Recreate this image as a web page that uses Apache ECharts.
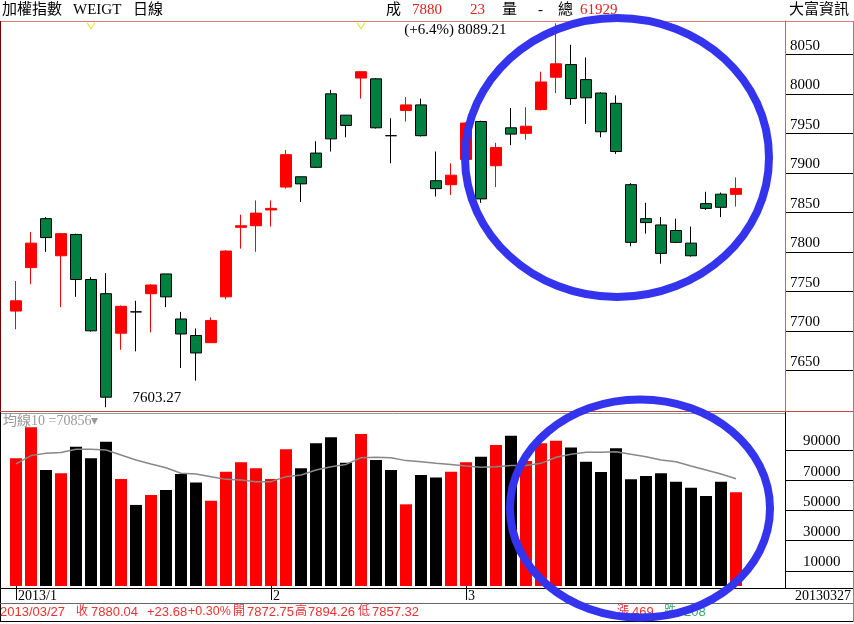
<!DOCTYPE html>
<html><head><meta charset="utf-8">
<script src="https://cdn.jsdelivr.net/npm/echarts@6/dist/echarts.min.js"></script>
<style>html,body{margin:0;padding:0;background:#fff}#c{width:854px;height:624px}</style>
</head><body><div id="c"></div>
<script>
// ---- data ----
const dates = [
 '2013/01/09','2013/01/10','2013/01/11','2013/01/14','2013/01/15','2013/01/16','2013/01/17','2013/01/18',
 '2013/01/21','2013/01/22','2013/01/23','2013/01/24','2013/01/25','2013/01/28','2013/01/29','2013/01/30','2013/01/31',
 '2013/02/01','2013/02/04','2013/02/05','2013/02/06','2013/02/18','2013/02/19','2013/02/20','2013/02/21','2013/02/22',
 '2013/02/23','2013/02/25','2013/02/26','2013/02/27',
 '2013/03/01','2013/03/04','2013/03/05','2013/03/06','2013/03/07','2013/03/08','2013/03/11','2013/03/12','2013/03/13',
 '2013/03/14','2013/03/15','2013/03/18','2013/03/19','2013/03/20','2013/03/21','2013/03/22','2013/03/25','2013/03/26','2013/03/27'
];
const opens  = [7725,7780,7842,7795,7822,7765,7747,7697,7724,7747,7772,7715,7694,7685,7743,7831,7833,7853,7882,7895,7925,8000,7973,8020,8019,7947,7979,7986,7890,7885,7917,7965,7909,7957,7950,7980,8021,8037,8018,8001,7988,7885,7842,7834,7827,7811,7861,7873,7872.75];
const closes = [7738,7811,7818,7823,7765,7700,7616,7731,7724,7758,7743,7696,7672,7713,7801,7833,7849,7855,7923,7886,7907,7943,7960,8028,7957,7947,7986,7947,7880,7897,7963,7867,7932,7949,7959,8015,8038,7994,7995,7952,7927,7812,7837,7798,7812,7795,7855,7856.36,7880.04];
const lows   = [7702,7759,7800,7730,7743,7699,7603.27,7676,7674,7698,7730,7653,7637,7685,7740,7804,7800,7832,7880,7863,7906,7927,7945,7994,7956,7912,7965,7946,7870,7872,7916,7862,7882,7935,7942,7979,8001,7986,7962,7945,7924,7807,7823,7785,7811,7794,7853,7844,7857.32];
const highs  = [7763,7825,7844,7824,7823,7768,7773,7732,7738,7759,7772,7724,7703,7717,7802,7847,7865,7865,7929,7895,7940,8005,7973,8028,8020,7969,7996,7994,7927,7912,7964,7966,7938,7982,7983,8028,8089.21,8062,8046,8002,7998,7887,7862,7844,7842,7832,7876,7875,7894.26];
const volumes = [84400,104900,76700,74500,92100,84400,95400,70700,53600,60200,63500,74000,68500,56400,75600,81800,77800,70700,90400,77800,94300,98300,81500,100500,83300,76700,54000,73400,71800,75600,81800,85500,93200,99400,82600,94300,96100,91500,82200,75400,91000,70500,72700,74500,69000,65000,59500,69000,61929];
const ma10 = [80700,86200,87700,88200,90400,90400,89900,86600,83300,80700,78200,74500,74000,72300,70500,70100,69000,69000,72300,73400,76700,78900,80400,84800,85100,84800,82900,82200,81100,80400,79300,78500,78900,79600,79600,81100,85100,87100,88400,88400,88800,87100,85500,83300,82200,79300,76700,74000,70856];
const priceTicks = [7650,7700,7750,7800,7850,7900,7950,8000,8050];
const volTicks = [10000,30000,50000,70000,90000];
const markerIdx = [5, 23];
const advances = 469, declines = 208;

// ---- derived ----
const n = dates.length;
const last = n - 1;
let hiIdx = 0, loIdx = 0;
for (let i = 0; i < n; i++) { if (highs[i] > highs[hiIdx]) hiIdx = i; if (lows[i] < lows[loIdx]) loIdx = i; }
const pct = ((highs[hiIdx] - lows[loIdx]) / lows[loIdx] * 100).toFixed(1);
const chg = closes[last] - closes[last - 1];
const chgPct = (chg / closes[last - 1] * 100).toFixed(2);
const monthStart = i => i === 0 || dates[i].slice(5, 7) !== dates[i - 1].slice(5, 7);
const monthLabel = i => i === 0 ? dates[i].slice(0, 4) + '/' + (+dates[i].slice(5, 7)) : String(+dates[i].slice(5, 7));

const SERIF = '"Liberation Serif","Noto Sans CJK TC",serif';
const SANS = '"Liberation Sans","Noto Sans CJK TC",sans-serif';
const RED = '#ff0000';
const yMin = 7598.5, yMax = 8092.2;

const chart = echarts.init(document.getElementById('c'), null, {renderer: 'canvas'});

function txt(x, y, s, color, size, family, align) {
  return {type: 'text', x: x, y: y, z: 50, style: {text: s, fill: color, font: size + 'px ' + family, textAlign: align || 'left', textVerticalAlign: 'middle'}};
}
function ln(x1, y1, x2, y2, color) {
  return {type: 'line', z: 40, shape: {x1, y1, x2, y2}, style: {stroke: color, lineWidth: 1}};
}
const lastDate = dates[last].replace(/\//g, '');

function yAxisCfg(grid, min, max, ticks, margin, lineColor) {
  return {type: 'value', gridIndex: grid, min: min, max: max, position: 'right', offset: 41.5,
    axisLine: {show: true, lineStyle: {color: lineColor, width: 1}}, splitLine: {show: false},
    axisTick: {show: true, inside: false, customValues: ticks, length: 68, lineStyle: {color: '#000', width: 1}},
    axisLabel: {show: true, customValues: ticks, formatter: v => String(v), margin: margin, align: 'left', verticalAlign: 'bottom',
      padding: [0, 0, 1, 0], color: '#000', fontSize: 15, fontFamily: SERIF}};
}

chart.setOption({
  animation: false,
  backgroundColor: '#fff',
  grid: [
    {left: 8.5, width: 735, top: 21, height: 390},
    {left: 8.5, width: 735, top: 413, height: 173}
  ],
  xAxis: [
    {type: 'category', gridIndex: 0, data: dates, show: false},
    {type: 'category', gridIndex: 1, data: dates, offset: 2,
     axisLine: {show: false},
     axisTick: {show: true, alignWithLabel: true, length: 14, interval: (i) => monthStart(i), lineStyle: {color: '#000', width: 1}},
     axisLabel: {show: true, interval: (i) => monthStart(i), formatter: (v, i) => monthLabel(i), align: 'left', padding: [0, 0, 0, 2], margin: 1, color: '#000', fontSize: 14, fontFamily: SERIF}}
  ],
  yAxis: [
    yAxisCfg(0, yMin, yMax, priceTicks, 5, '#e05a5a'),
    yAxisCfg(1, 0, 114380, volTicks, 18, '#000')
  ],
  series: [
    {type: 'candlestick', xAxisIndex: 0, yAxisIndex: 0, barWidth: 12,
     data: dates.map((d, i) => [opens[i], closes[i], lows[i], highs[i]]),
     itemStyle: {color: RED, color0: '#008040', borderColor: RED, borderColor0: '#000', borderColorDoji: '#000', borderWidth: 1},
     markPoint: {symbol: 'circle', symbolSize: 1, itemStyle: {color: 'transparent'}, silent: true,
       label: {color: '#000', fontSize: 15, fontFamily: SERIF},
       data: [
         {coord: [hiIdx, highs[hiIdx]], value: highs[hiIdx], label: {formatter: '(+' + pct + '%) ' + highs[hiIdx].toFixed(2), position: 'left', distance: 49, offset: [0, 7]}},
         {coord: [loIdx, lows[loIdx]], value: lows[loIdx], label: {formatter: lows[loIdx].toFixed(2), position: 'right', distance: 26, offset: [0, -9]}}
       ]}
    },
    {type: 'scatter', xAxisIndex: 0, yAxisIndex: 0, symbol: 'path://M0,0L5,7L10,0', symbolSize: [8, 6],
     itemStyle: {color: 'transparent', borderColor: '#e6dc00', borderWidth: 1},
     data: markerIdx.map(i => [i, yMax - 6]), silent: true},
    {type: 'bar', xAxisIndex: 1, yAxisIndex: 1, barWidth: 12,
     data: volumes.map((v, i) => ({value: v, itemStyle: {color: closes[i] > opens[i] ? RED : '#000'}}))},
    {type: 'line', xAxisIndex: 1, yAxisIndex: 1, data: ma10, symbol: 'none', smooth: false,
     lineStyle: {color: '#888', width: 1.5}, z: 5}
  ],
  graphic: {elements: [
    // frame
    ln(0, 21.5, 854, 21.5, '#e07a7a'),
    ln(0.5, 21, 0.5, 412, '#7a0000'),
    ln(785.5, 21, 785.5, 411, '#e05a5a'),
    ln(0, 411.5, 854, 411.5, '#c84848'),
    ln(0, 413.5, 785, 413.5, '#999'),
    ln(0.5, 412, 0.5, 622, '#000'),
    ln(785.5, 412, 785.5, 588, '#000'),
    ln(0, 588.5, 854, 588.5, '#000'),
    ln(0, 603.5, 854, 603.5, '#666'),
    ln(0, 621.5, 854, 621.5, '#000'),
    ln(853.5, 21, 853.5, 622, '#888'),
    // header
    txt(2, 10, '加權指數', '#000', 15, SERIF),
    txt(73, 10, 'WEIGT', '#000', 15, SERIF),
    txt(133, 10, '日線', '#000', 15, SERIF),
    txt(386, 10, '成', '#000', 15, SERIF),
    txt(412, 10, String(Math.round(closes[last])), '#e02020', 15, SERIF),
    txt(470, 10, String(Math.trunc(chg)), '#e02020', 15, SERIF),
    txt(502, 10, '量', '#000', 15, SERIF),
    txt(538, 10, '-', '#000', 15, SERIF),
    txt(558, 10, '總', '#000', 15, SERIF),
    txt(580, 10, String(volumes[last]), '#e02020', 15, SERIF),
    txt(789, 10, '大富資訊', '#000', 15, SERIF),
    // volume title
    txt(3, 421, '均線10 =' + ma10[last] + '▾', '#999', 14, SERIF),
    // date row right
    txt(851, 596, lastDate, '#000', 14, SERIF, 'right'),
    // bottom row
    txt(0, 612, dates[last], '#ee3030', 13, SANS),
    txt(76, 612, '收', '#ee3030', 12, SANS),
    txt(91, 612, closes[last].toFixed(2), '#ee3030', 13, SANS),
    txt(147, 612, '+' + chg.toFixed(2), '#ee3030', 13, SANS),
    txt(188, 612, '+' + chgPct + '%', '#ee3030', 12.5, SANS),
    txt(233, 612, '開', '#ee3030', 12, SANS),
    txt(247, 612, opens[last].toFixed(2), '#ee3030', 13, SANS),
    txt(295, 612, '高', '#ee3030', 12, SANS),
    txt(308, 612, highs[last].toFixed(2), '#ee3030', 13, SANS),
    txt(358, 612, '低', '#ee3030', 12, SANS),
    txt(372, 612, lows[last].toFixed(2), '#ee3030', 13, SANS),
    txt(617, 612, '漲', '#ee3030', 12, SANS),
    txt(632, 612, String(advances), '#ee3030', 13, SANS),
    txt(664, 612, '跌', '#33aa66', 12, SANS),
    txt(684, 612, String(declines), '#33aa66', 13, SANS),
    // annotation ellipses
    {type: 'ellipse', z: 100, shape: {cx: 617, cy: 157.5, rx: 152, ry: 139.5}, style: {fill: 'none', stroke: '#3434ee', lineWidth: 8}},
    {type: 'ellipse', z: 100, shape: {cx: 640, cy: 508.5, rx: 130, ry: 109}, style: {fill: 'none', stroke: '#3434ee', lineWidth: 8}}
  ]}
});
</script></body></html>
